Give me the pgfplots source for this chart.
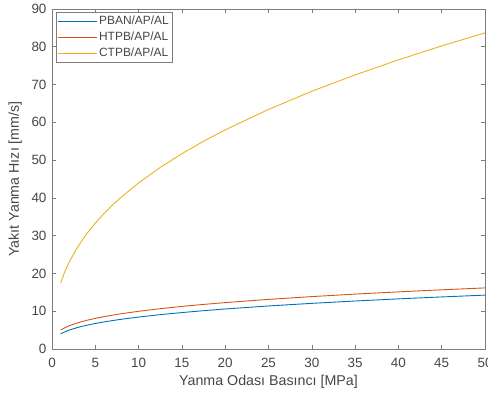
\documentclass[border=0pt]{standalone}
\usepackage{pgfplots}
\pgfplotsset{compat=1.18}
\usepackage{fontspec}
\setmainfont{Liberation Sans}
\definecolor{mblue}{rgb}{0,0.447,0.741}
\definecolor{morange}{rgb}{0.85,0.325,0.098}
\definecolor{myellow}{rgb}{0.929,0.694,0.125}
\definecolor{axgray}{RGB}{125,125,125}
\definecolor{txtgray}{RGB}{70,70,70}
\begin{document}
\begin{tikzpicture}
\begin{axis}[name=ax, scale only axis, width=433bp, height=340bp,
  xmin=0, xmax=50, ymin=0, ymax=90,
  xtick={0,5,...,50}, ytick={0,10,...,90},
  tick align=inside, major tick length=4bp,
  axis line style={draw=axgray, line width=0.7pt},
  tick style={draw=axgray, line width=0.6pt},
  /pgf/number format/assume math mode=true,
  ticklabel style={font=\fontsize{13.5}{15}\selectfont, text=txtgray},
  xticklabel style={yshift=-6bp},
  yticklabel style={xshift=-2bp},
  xlabel={Yanma Odası Basıncı [MPa]},
  ylabel={Yakıt Yanma Hızı [mm/s]},
  label style={font=\fontsize{14.3}{16}\selectfont, text=txtgray},
  x label style={at={(axis description cs:0.5,-0.097)}, anchor=center},
  y label style={at={(axis description cs:-0.085,0.5)}, anchor=center},
  legend cell align=left,
  legend style={at={(0,1)}, anchor=north west, xshift=4bp, yshift=-3bp,
    draw=axgray, inner xsep=1bp, inner ysep=1bp,
    font=\fontsize{12}{14}\selectfont, text=txtgray,
    nodes={inner sep=2bp, text height=9bp, text depth=3bp}},
  legend image code/.code={\draw[#1] (0bp,0bp) -- (39bp,0bp);},
]
\addplot[mblue, line width=0.9pt] coordinates {
(1,4.00) (1.5,4.56) (2,5.01) (3,5.72) (4,6.28) (5,6.75) (6,7.16) (7,7.53) (8,7.86)
(10,8.45) (12.5,9.09) (15,9.64) (17.5,10.14) (20,10.59) (25,11.39) (30,12.08)
(35,12.70) (40,13.27) (45,13.78) (50,14.26)};
\addlegendentry{PBAN/AP/AL}
\addplot[morange, line width=0.9pt] coordinates {
(1,5.00) (1.5,5.65) (2,6.16) (3,6.95) (4,7.58) (5,8.10) (6,8.56) (7,8.96) (8,9.33)
(10,9.98) (12.5,10.67) (15,11.27) (17.5,11.80) (20,12.28) (25,13.13) (30,13.87)
(35,14.53) (40,15.12) (45,15.67) (50,16.17)};
\addlegendentry{HTPB/AP/AL}
\addplot[myellow, line width=0.9pt] coordinates {
(1,17.50) (1.5,20.58) (2,23.09) (3,27.16) (4,30.47) (5,33.31) (6,35.83) (7,38.12) (8,40.20)
(10,43.96) (12.5,48.06) (15,51.70) (17.5,54.99) (20,58.00) (25,63.42) (30,68.22)
(35,72.55) (40,76.53) (45,80.23) (50,83.68)};
\addlegendentry{CTPB/AP/AL}
\end{axis}
\pgfresetboundingbox
\path ([xshift=-52bp,yshift=-45bp]ax.south west) rectangle ([xshift=3bp,yshift=9bp]ax.north east);
\end{tikzpicture}
\end{document}
